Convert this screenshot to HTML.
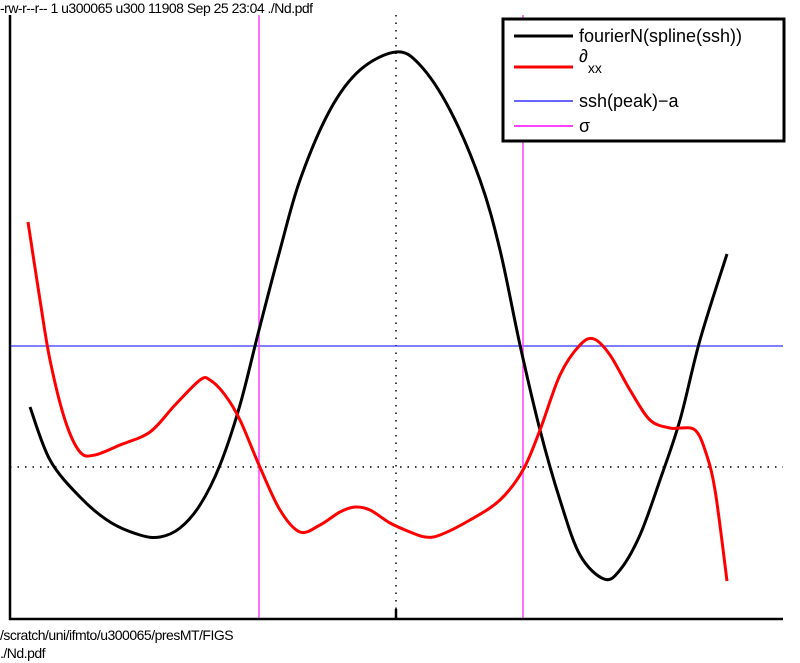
<!DOCTYPE html>
<html><head><meta charset="utf-8"><style>
html,body{margin:0;padding:0;background:#fff;}
svg{display:block;font-family:"Liberation Sans",sans-serif;}
</style></head><body>
<svg id="chart" width="800" height="663" viewBox="0 0 800 663">
<text x="0" y="13" font-size="14" letter-spacing="-0.5">-rw-r--r-- 1 u300065 u300 11908 Sep 25 23:04 ./Nd.pdf</text>
<g id="plot"></g>
<text x="0" y="640" font-size="14" letter-spacing="-0.5">/scratch/uni/ifmto/u300065/presMT/FIGS</text>
<text x="0" y="658" font-size="14" letter-spacing="-0.5">./Nd.pdf</text>
</svg>
<script>
const blackX=[20,40,70,100,130,150,170,190,210,230,249,270,290,320,350,386,410,440,470,490,510,530,550,570,594,610,630,650,670,690,717];
const blackY=[0.60,0.07,-0.30,-0.55,-0.68,-0.70,-0.61,-0.38,0.02,0.62,1.37,2.17,2.87,3.57,3.97,4.15,4.02,3.57,2.87,2.17,1.22,0.37,-0.33,-0.88,-1.12,-1.03,-0.68,-0.13,0.47,1.27,2.13];
const redX=[18,30,40,55,70,85,110,140,165,190,200,215,230,249,270,290,310,330,345,360,380,400,415,430,460,490,513,530,550,570,584,600,620,640,660,670,685,695,705,717];
const redY=[2.45,1.67,1.07,0.47,0.15,0.12,0.22,0.35,0.62,0.87,0.87,0.72,0.47,0.02,-0.43,-0.65,-0.58,-0.45,-0.40,-0.43,-0.56,-0.65,-0.70,-0.68,-0.53,-0.33,-0.03,0.37,0.92,1.22,1.28,1.12,0.77,0.47,0.39,0.39,0.37,0.17,-0.23,-1.14];
const blueLevel=[1.21];
const sigmaX=[249,513];
const peakX=[386];
const NS="http://www.w3.org/2000/svg";
const sx=v=>10+v;
const sy=v=>467-v*100;
const g=document.getElementById('plot');
function mk(t,a){const e=document.createElementNS(NS,t);for(const k in a)e.setAttribute(k,a[k]);g.appendChild(e);return e;}
function smooth(xs,ys){let p=xs.map((x,i)=>[sx(x),sy(ys[i])]);let d=`M${p[0][0]},${p[0][1]}`;
for(let i=0;i<p.length-1;i++){const p0=p[Math.max(0,i-1)],p1=p[i],p2=p[i+1],p3=p[Math.min(p.length-1,i+2)];
d+=` C${p1[0]+(p2[0]-p0[0])/6},${p1[1]+(p2[1]-p0[1])/6} ${p2[0]-(p3[0]-p1[0])/6},${p2[1]-(p3[1]-p1[1])/6} ${p2[0]},${p2[1]}`;}return d;}
let e=mk('line',{x1:10,x2:783,y1:sy(0),y2:sy(0),stroke:'#000','stroke-width':1.5,'stroke-dasharray':'1.5,6'});


e=mk('line',{x1:sx(peakX[0]),x2:sx(peakX[0]),y1:15,y2:619,stroke:'#000','stroke-width':1.5,'stroke-dasharray':'1.5,6'});


e=mk('line',{x1:10,x2:783,y1:sy(blueLevel[0]),y2:sy(blueLevel[0]),stroke:'#3333ff','stroke-width':1.3});


sigmaX.forEach((v,i)=>{const l=mk('line',{x1:sx(v),x2:sx(v),y1:15,y2:619,stroke:'#ff44ff','stroke-width':1.5});

});
e=mk('path',{d:smooth(blackX,blackY),fill:'none',stroke:'#000','stroke-width':3});


e=mk('path',{d:smooth(redX,redY),fill:'none',stroke:'#ff0000','stroke-width':3});


e=mk('path',{d:'M10,15 V619 H783',fill:'none',stroke:'#000','stroke-width':2.5});


e=mk('line',{x1:sx(peakX[0]),x2:sx(peakX[0]),y1:609,y2:619,stroke:'#000','stroke-width':2.5});


const lg=mk('g',{});


const r=document.createElementNS(NS,'rect');
r.setAttribute('x',503);r.setAttribute('y',19);r.setAttribute('width',281);r.setAttribute('height',122);
r.setAttribute('fill','#fff');r.setAttribute('stroke','#000');r.setAttribute('stroke-width',3);


lg.appendChild(r);
const items=[['fourierN(spline(ssh))','#000',3,36],['∂','#ff0000',3,67],['ssh(peak)−a','#3333ff',1.5,101],['σ','#ff44ff',2,126]];
items.forEach((it,i)=>{
const ln=document.createElementNS(NS,'line');
ln.setAttribute('x1',514);ln.setAttribute('x2',573);ln.setAttribute('y1',it[3]);ln.setAttribute('y2',it[3]);
ln.setAttribute('stroke',it[1]);ln.setAttribute('stroke-width',it[2]);


lg.appendChild(ln);
const t=document.createElementNS(NS,'text');
t.setAttribute('x',579);t.setAttribute('y',i==1?62:it[3]+6);t.setAttribute('font-size',18);
t.textContent=it[0];
if(i==1){const s=document.createElementNS(NS,'tspan');s.setAttribute('font-size',14);s.setAttribute('dy',11);s.textContent='xx';t.appendChild(s);}


lg.appendChild(t);});
</script>
</body></html>
